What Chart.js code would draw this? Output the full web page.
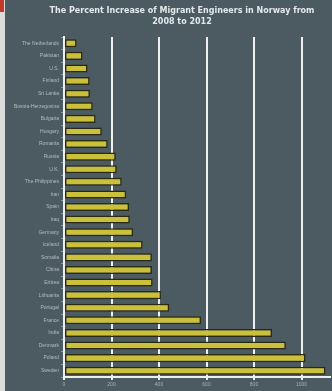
<!DOCTYPE html>
<html>
<head>
<meta charset="utf-8">
<script src="https://cdn.jsdelivr.net/npm/chart.js@4.4.1/dist/chart.umd.min.js"></script>
<style>
  html, body { margin: 0; padding: 0; background: #4c5a62; }
  #strip { position: absolute; left: 0; top: 0; width: 5px; height: 391px; background: #dcdcdc; }
  #strip div { width: 4px; height: 12px; background: #c0392b; }
  #wrap { position: absolute; left: 5px; top: 0; width: 327px; height: 391px; }
</style>
</head>
<body>
<div id="strip"><div></div></div>
<div id="wrap"><canvas id="bargraph"></canvas></div>
<script>
// countries, top to bottom
const countries = ['The Netherlands', 'Pakistan', 'U.S.', 'Finland', 'Sri Lanka', 'Bosnia-Herzegovina',
  'Bulgaria', 'Hungary', 'Romania', 'Russia', 'U.K.', 'The Philippines', 'Iran', 'Spain', 'Iraq',
  'Germany', 'Iceland', 'Somalia', 'China', 'Eritrea', 'Lithuania', 'Portugal', 'France', 'India',
  'Denmark', 'Poland', 'Sweden']
// percent increase
const increase = [53, 78, 99, 108, 109, 121, 133, 159, 184, 218, 222, 243, 262, 274, 277,
  291, 331, 370, 370, 373, 408, 443, 577, 876, 934, 1017, 1101]
const xTicks = [0, 200, 400, 600, 800, 1000]
const titleLines = ['The Percent Increase of Migrant Engineers in Norway from', '2008 to 2012']

// title drawn by hand so it can sit a bit right of centre like the original
const titlePlugin = {
  id: 'titleLines',
  afterDraw(chart) {
    const ctx = chart.ctx
    ctx.save()
    ctx.fillStyle = '#e4e8ea'
    ctx.font = 'bold 8px "DejaVu Sans", sans-serif'
    ctx.textAlign = 'center'
    ctx.textBaseline = 'middle'
    titleLines.forEach((t, i) => ctx.fillText(t, 177, 11 + i * 11))
    ctx.restore()
  }
}

const chart = document.getElementById('bargraph')

let barChart = new Chart(chart, {
  type: 'bar',
  data: {
    labels: countries,
    datasets: [
      {
        label: 'increase',
        data: increase,
        backgroundColor: '#cbc03a',
        borderColor: '#2a2912',
        borderWidth: 1.5,
        borderSkipped: false,
        barPercentage: 0.64,
        categoryPercentage: 1
      }
    ]
  },
  options: {
    indexAxis: 'y',
    responsive: true,
    maintainAspectRatio: false,
    animation: false,
    layout: { padding: { top: 37, right: 2, bottom: 1, left: 0 } },
    plugins: {
      legend: { display: false },
      title: { display: false },
      tooltip: { enabled: false }
    },
    scales: {
      x: {
        z: 1,
        min: 0,
        max: 1120,
        afterBuildTicks: (axis) => { axis.ticks = xTicks.map(v => ({ value: v })) },
        grid: { color: '#f0f0f0', lineWidth: 2, tickLength: 3 },
        border: { color: '#f0f0f0', width: 2 },
        ticks: { color: '#aab2b7', font: { size: 5 }, padding: 2, callback: (v) => String(v) }
      },
      y: {
        z: 1,
        afterFit: (axis) => { axis.width = 59 },
        grid: { drawOnChartArea: false, color: '#8a979e', tickLength: 3 },
        border: { color: '#f0f0f0', width: 2 },
        ticks: { color: '#b4bcc0', font: { size: 5 }, autoSkip: false, padding: 2 }
      }
    }
  },
  plugins: [titlePlugin]
})
</script>
</body>
</html>
